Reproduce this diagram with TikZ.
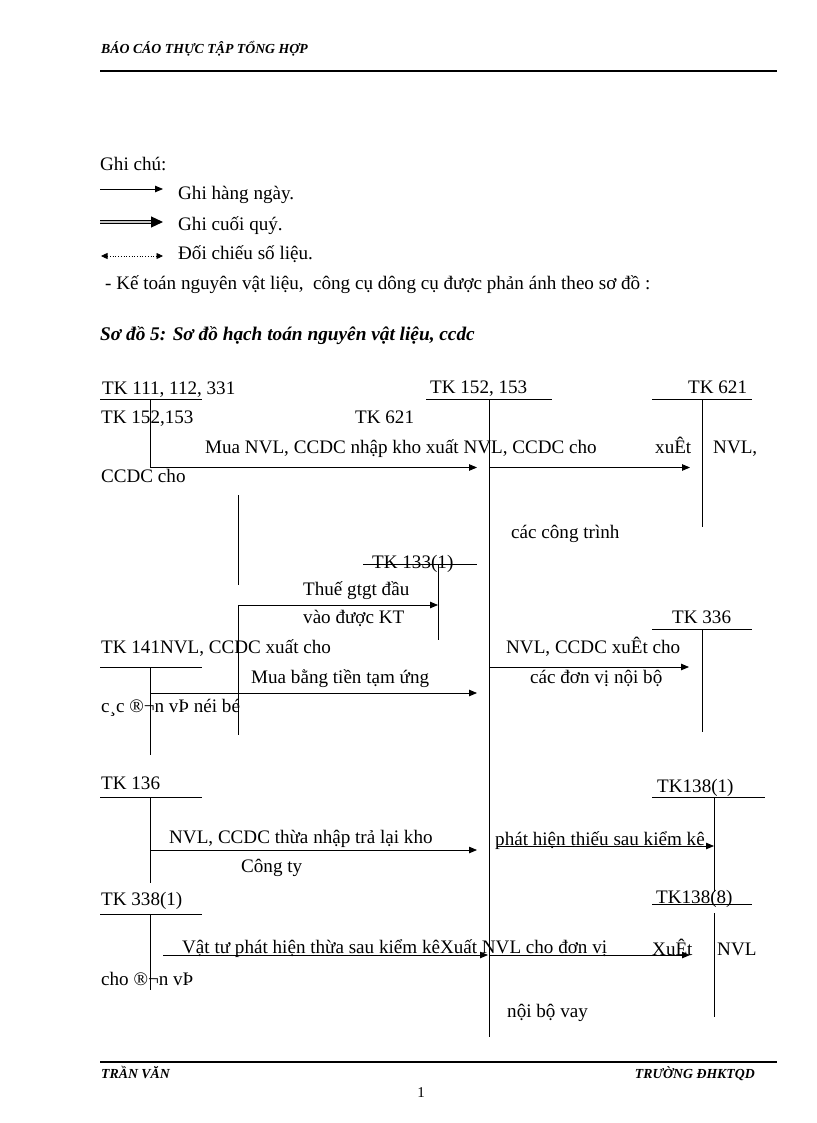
\documentclass[tikz,border=0pt]{standalone}
\usepackage{fontspec}
\setmainfont{Liberation Serif}
\usetikzlibrary{arrows.meta}
\tikzset{
  txt/.style={anchor=base west, inner sep=0pt, font=\fontsize{19.1}{22}\selectfont},
  ttl/.style={anchor=base west, inner sep=0pt, font=\fontsize{19.3}{22}\selectfont\bfseries\itshape},
  hdr/.style={anchor=base west, inner sep=0pt, font=\fontsize{13.8}{16}\selectfont\bfseries\itshape},
  acc/.style={line width=0.8pt},
  rule/.style={line width=2pt},
  flow/.style={line width=0.8pt, -{Triangle[length=8pt,width=6.5pt]}},
  quarter/.style={line width=1.2pt, double=gray!45, double distance=1.3pt, -{Triangle[length=12pt,width=11pt]}},
  check/.style={line width=0.7pt, dotted, {Triangle[length=6.5pt,width=6pt]}-{Triangle[length=6.5pt,width=6pt]}},
}
\begin{document}
\begin{tikzpicture}[x=1pt,y=-1pt]
\useasboundingbox[fill=white] (0,0) rectangle (816,1123);

% header
\node[hdr] (hd) at (101,54) {BÁO CÁO THỰC TẬP TỔNG HỢP};
\coordinate (hl1) at (100,71); \coordinate (hl2) at (777,71);
\draw[rule] (hl1) -- (hl2);

% legend
\node[txt] (ghichu) at (100,171) {Ghi chú:};
\coordinate (la1) at (100,189); \coordinate (lb1) at (163,189);
\draw[flow] (la1) -- (lb1);
\node[txt] (lt1) at (178,200) {Ghi hàng ngày.};
\coordinate (la2) at (100,222); \coordinate (lb2) at (163,222);
\draw[quarter] (la2) -- (lb2);
\node[txt] (lt2) at (178,230) {Ghi cuối quý.};
\coordinate (la3) at (101,256); \coordinate (lb3) at (163,256);
\draw[check] (la3) -- (lb3);
\node[txt] (lt3) at (178,259) {Đối chiếu số liệu.};
\node[txt] (intro) at (105,289) {- Kế toán nguyên vật liệu,\ \ công cụ dông cụ được phản ánh theo sơ đồ :};
\node[ttl] (title) at (100,340) {Sơ đồ 5: Sơ đồ hạch toán nguyên vật liệu, ccdc};

% ---- T accounts ----
% TK 111,112,331
\node[txt] (t111) at (102,394) {TK 111, 112, 331};
\coordinate (t111a) at (100,399); \coordinate (t111b) at (202,399);
\coordinate (t111t) at (150.5,399); \coordinate (t111e) at (150.5,467.5);
\draw[acc] (t111a) -- (t111b); \draw[acc] (t111t) -- (t111e);
\node[txt] (t152l) at (101,423) {TK 152,153};
\node[txt] (t621l) at (355,423) {TK 621};
\node[txt] (muanvl) at (205,453) {Mua NVL,\ CCDC nhập kho xuất NVL,\ CCDC cho};
\node[txt] (xuet1) at (655,453) {xuÊt};
\node[txt] (nvl1) at (713,453) {NVL,};
\node[txt] (ccdccho) at (101,482) {CCDC cho};

% TK 152,153 (main)
\node[txt] (t152) at (430,393) {TK 152, 153};
\coordinate (t152a) at (426,399); \coordinate (t152b) at (552,399);
\coordinate (t152t) at (489,399); \coordinate (t152e) at (489,1037);
\draw[acc] (t152a) -- (t152b); \draw[acc] (t152t) -- (t152e);

% TK 621
\node[txt] (t621) at (688,393) {TK 621};
\coordinate (t621a) at (652,399); \coordinate (t621b) at (752,399);
\coordinate (t621t) at (702,399); \coordinate (t621e) at (702,527);
\draw[acc] (t621a) -- (t621b); \draw[acc] (t621t) -- (t621e);
\node[txt] (congtrinh) at (511,538) {các công trình};

% arrows row 1
\coordinate (a1e) at (477,467.5);
\draw[flow] (t111e) -- (a1e);
\coordinate (a2s) at (489,467.5); \coordinate (a2e) at (690,467.5);
\draw[flow] (a2s) -- (a2e);

% vertical at 238
\coordinate (v2a) at (238,495); \coordinate (v2b) at (238,585);
\coordinate (v2c) at (238,605); \coordinate (v2d) at (238,735);
\draw[acc] (v2a) -- (v2b); \draw[acc] (v2c) -- (v2d);

% TK 133(1)
\node[txt] (t133) at (372,568) {TK 133(1)};
\coordinate (t133a) at (363,564); \coordinate (t133b) at (477,564);
\coordinate (t133t) at (438,564); \coordinate (t133e) at (438,640);
\draw[acc] (t133a) -- (t133b); \draw[acc] (t133t) -- (t133e);
\coordinate (a3e) at (438,605);
\draw[flow] (v2c) -- (a3e);
\node[txt] (thue) at (303,595) {Thuế gtgt đầu};
\node[txt] (vao) at (303,623) {vào được KT};

% TK 141
\node[txt] (t141) at (101,653) {TK 141NVL, CCDC xuất cho};
\coordinate (t141a) at (100,667); \coordinate (t141b) at (202,667);
\coordinate (t141t) at (150.5,667); \coordinate (t141e) at (150.5,755);
\draw[acc] (t141a) -- (t141b); \draw[acc] (t141t) -- (t141e);
\node[txt] (tamung) at (251,683) {Mua bằng tiền tạm ứng};
\coordinate (a4s) at (150.5,693); \coordinate (a4e) at (477,693);
\draw[flow] (a4s) -- (a4e);
\node[txt] (cacdv) at (101,712) {c¸c ®¬n vÞ néi bé};

% TK 336
\node[txt] (t336) at (672,623) {TK 336};
\coordinate (t336a) at (652,629); \coordinate (t336b) at (752,629);
\coordinate (t336t) at (702,629); \coordinate (t336e) at (702,732);
\draw[acc] (t336a) -- (t336b); \draw[acc] (t336t) -- (t336e);
\node[txt] (nvlx) at (506,653) {NVL, CCDC xuÊt cho};
\node[txt] (noibo) at (530,683) {các đơn vị nội bộ};
\coordinate (a5s) at (489,667); \coordinate (a5e) at (689,667);
\draw[flow] (a5s) -- (a5e);

% TK 136
\node[txt] (t136) at (101,789) {TK 136};
\coordinate (t136a) at (100,797); \coordinate (t136b) at (202,797);
\coordinate (t136t) at (150.5,797); \coordinate (t136e) at (150.5,883);
\draw[acc] (t136a) -- (t136b); \draw[acc] (t136t) -- (t136e);
\node[txt] (thua) at (169,843) {NVL, CCDC thừa nhập trả lại kho};
\node[txt] (congty) at (241,872) {Công ty};
\coordinate (a6s) at (150.5,850); \coordinate (a6e) at (477,850);
\draw[flow] (a6s) -- (a6e);

% TK 138(1)
\node[txt] (t1381) at (657,792) {TK138(1)};
\coordinate (t1381a) at (652,797); \coordinate (t1381b) at (765,797);
\coordinate (t1381t) at (714,797); \coordinate (t1381e) at (714,892);
\draw[acc] (t1381a) -- (t1381b); \draw[acc] (t1381t) -- (t1381e);
\node[txt] (thieu) at (495,845) {phát hiện thiếu sau kiểm kê};
\coordinate (a7s) at (497,846); \coordinate (a7e) at (714,846);
\draw[flow] (a7s) -- (a7e);

% TK 338(1)
\node[txt] (t338) at (101,905) {TK 338(1)};
\coordinate (t338a) at (100,914); \coordinate (t338b) at (202,914);
\coordinate (t338t) at (150.5,914); \coordinate (t338e) at (150.5,990);
\draw[acc] (t338a) -- (t338b); \draw[acc] (t338t) -- (t338e);
\node[txt] (vattu) at (182,953) {Vật tư phát hiện thừa sau kiểm kêXuất NVL cho đơn vị};
\coordinate (a8s) at (163,955); \coordinate (a8e) at (488,955);
\draw[flow] (a8s) -- (a8e);
\node[txt] (chodv) at (101,985) {cho ®¬n vÞ};

% TK 138(8)
\node[txt] (t1388) at (656,903) {TK138(8)};
\coordinate (t1388a) at (652,904); \coordinate (t1388b) at (752,904);
\coordinate (t1388t) at (714,913); \coordinate (t1388e) at (714,1017);
\draw[acc] (t1388a) -- (t1388b); \draw[acc] (t1388t) -- (t1388e);
\coordinate (a9s) at (489,955); \coordinate (a9e) at (690,955);
\draw[flow] (a9s) -- (a9e);
\node[txt] (xuet2) at (652,955) {XuÊt};
\node[txt] (nvl2) at (717,955) {NVL};
\node[txt] (vay) at (507,1017) {nội bộ vay};

% footer
\coordinate (fl1) at (100,1062); \coordinate (fl2) at (777,1062);
\draw[rule] (fl1) -- (fl2);
\node[hdr] (ft1) at (101,1078) {TRẦN VĂN};
\node[hdr, anchor=base east] (ft2) at (755,1078) {TRƯỜNG ĐHKTQD};
\node[anchor=base, inner sep=0pt, font=\fontsize{15}{17}\selectfont] (pg) at (421,1097) {1};
\end{tikzpicture}
\end{document}
